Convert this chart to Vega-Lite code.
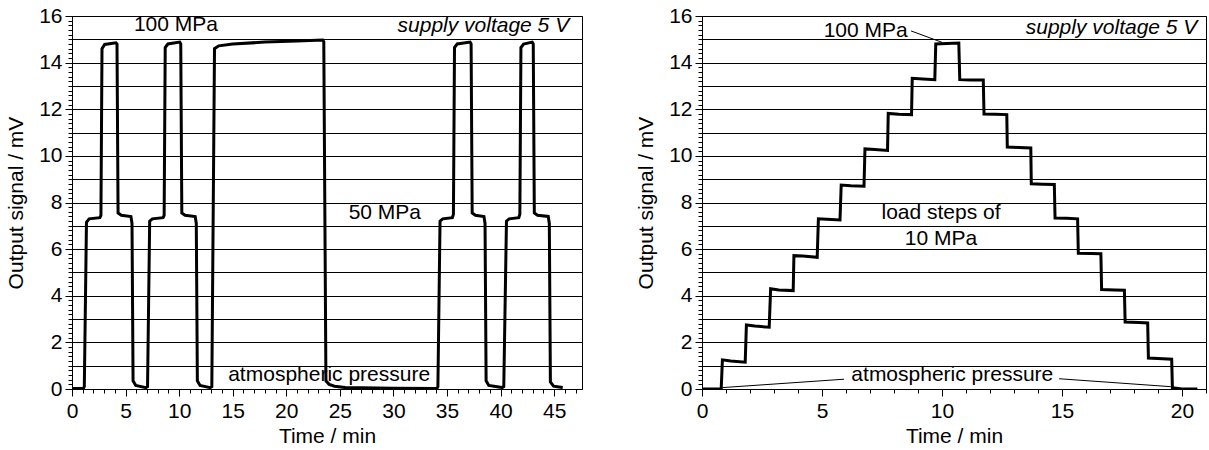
{
  "$schema": "https://vega.github.io/schema/vega-lite/v6.json",
  "padding": {"left": 5, "top": 4, "right": 0, "bottom": 0},
  "spacing": 52,
  "background": "white",
  "config": {
    "view": {"stroke": "black", "strokeWidth": 1},
    "axis": {
      "labelFont": "Liberation Sans", "labelFontSize": 21, "labelColor": "black",
      "titleFont": "Liberation Sans", "titleFontSize": 21, "titleFontWeight": "normal", "titleColor": "black",
      "domainColor": "black", "domainWidth": 1, "tickColor": "black", "tickWidth": 1,
      "gridColor": "black", "gridWidth": 1, "labelOverlap": false, "labelFlush": false
    },
    "text": {"font": "Liberation Sans", "fontSize": 21, "color": "black", "baseline": "middle"}
  },
  "datasets": {
    "left": [
      {"t":0,"v":0.02},{"t":1.05,"v":0.02},{"t":1.15,"v":0.1},{"t":1.35,"v":7.15},{"t":1.6,"v":7.3},{"t":2.6,"v":7.35},{"t":2.7,"v":7.45},{"t":2.8,"v":14.6},{"t":3.05,"v":14.78},{"t":4.1,"v":14.85},{"t":4.2,"v":14.8},{"t":4.3,"v":7.55},{"t":4.6,"v":7.45},{"t":5.5,"v":7.4},{"t":5.6,"v":7.1},{"t":5.7,"v":0.35},{"t":5.95,"v":0.15},{"t":6.9,"v":0.06},{"t":7.05,"v":0.1},{"t":7.25,"v":7.2},{"t":7.5,"v":7.3},{"t":8.5,"v":7.35},{"t":8.6,"v":7.45},{"t":8.7,"v":14.65},{"t":8.95,"v":14.8},{"t":10.05,"v":14.88},{"t":10.15,"v":14.8},{"t":10.25,"v":7.55},{"t":10.55,"v":7.45},{"t":11.5,"v":7.4},{"t":11.6,"v":7.1},{"t":11.7,"v":0.35},{"t":11.95,"v":0.15},{"t":12.9,"v":0.06},{"t":13.05,"v":0.1},{"t":13.3,"v":14.6},{"t":13.7,"v":14.72},{"t":15,"v":14.8},{"t":18,"v":14.88},{"t":21,"v":14.93},{"t":23.4,"v":14.97},{"t":23.5,"v":14.9},{"t":23.7,"v":0.35},{"t":24.0,"v":0.2},{"t":24.5,"v":0.12},{"t":25.5,"v":0.06},{"t":30,"v":0.03},{"t":34.05,"v":0.02},{"t":34.15,"v":0.1},{"t":34.35,"v":7.2},{"t":34.6,"v":7.3},{"t":35.5,"v":7.35},{"t":35.6,"v":7.5},{"t":35.7,"v":14.65},{"t":35.95,"v":14.8},{"t":37.15,"v":14.88},{"t":37.25,"v":14.8},{"t":37.35,"v":7.55},{"t":37.65,"v":7.45},{"t":38.45,"v":7.4},{"t":38.55,"v":7.1},{"t":38.65,"v":0.35},{"t":38.9,"v":0.15},{"t":40.15,"v":0.06},{"t":40.3,"v":0.1},{"t":40.55,"v":7.2},{"t":40.8,"v":7.3},{"t":41.7,"v":7.35},{"t":41.8,"v":7.5},{"t":41.9,"v":14.65},{"t":42.15,"v":14.8},{"t":42.95,"v":14.88},{"t":43.05,"v":14.8},{"t":43.15,"v":7.55},{"t":43.45,"v":7.45},{"t":44.45,"v":7.4},{"t":44.55,"v":7.1},{"t":44.65,"v":0.3},{"t":44.95,"v":0.12},{"t":45.8,"v":0.06}
    ],
    "right": [
      {"t":0,"v":0},{"t":0.8,"v":0},{"t":0.85,"v":1.25},{"t":1.2,"v":1.2},{"t":1.8,"v":1.15},{"t":1.85,"v":2.75},{"t":2.2,"v":2.7},{"t":2.8,"v":2.65},{"t":2.86,"v":4.3},{"t":3.2,"v":4.25},{"t":3.8,"v":4.22},{"t":3.83,"v":5.72},{"t":4.2,"v":5.7},{"t":4.8,"v":5.65},{"t":4.85,"v":7.3},{"t":5.2,"v":7.28},{"t":5.75,"v":7.25},{"t":5.8,"v":8.75},{"t":6.2,"v":8.72},{"t":6.75,"v":8.7},{"t":6.79,"v":10.3},{"t":7.2,"v":10.27},{"t":7.73,"v":10.23},{"t":7.76,"v":11.82},{"t":8.2,"v":11.79},{"t":8.73,"v":11.77},{"t":8.76,"v":13.33},{"t":9.2,"v":13.3},{"t":9.7,"v":13.27},{"t":9.74,"v":14.8},{"t":10.2,"v":14.82},{"t":10.7,"v":14.84},{"t":10.74,"v":13.27},{"t":11.2,"v":13.25},{"t":11.72,"v":13.25},{"t":11.75,"v":11.8},{"t":12.2,"v":11.79},{"t":12.7,"v":11.77},{"t":12.72,"v":10.38},{"t":13.2,"v":10.36},{"t":13.7,"v":10.34},{"t":13.72,"v":8.8},{"t":14.2,"v":8.78},{"t":14.68,"v":8.77},{"t":14.71,"v":7.33},{"t":15.2,"v":7.32},{"t":15.65,"v":7.3},{"t":15.68,"v":5.82},{"t":16.2,"v":5.81},{"t":16.62,"v":5.8},{"t":16.65,"v":4.27},{"t":17.2,"v":4.25},{"t":17.6,"v":4.24},{"t":17.63,"v":2.87},{"t":18.2,"v":2.85},{"t":18.57,"v":2.83},{"t":18.6,"v":1.33},{"t":19.2,"v":1.3},{"t":19.57,"v":1.28},{"t":19.6,"v":0.05},{"t":20.0,"v":0.0},{"t":20.64,"v":0.0}
    ],
    "leftLabels": [
      {"t":9.7,"v":15.6,"label":"100 MPa"},
      {"t":29.2,"v":7.55,"label":"50 MPa"},
      {"t":24.0,"v":0.62,"label":"atmospheric pressure"}
    ],
    "leftSupply": [{"t":46.4,"v":15.58,"label":"supply voltage 5 V"}],
    "rightLabels": [
      {"t":6.82,"v":15.36,"label":"100 MPa"},
      {"t":9.96,"v":7.57,"label":"load steps of"},
      {"t":9.96,"v":6.42,"label":"10 MPa"},
      {"t":10.43,"v":0.62,"label":"atmospheric pressure"}
    ],
    "rightSupply": [{"t":20.64,"v":15.5,"label":"supply voltage 5 V"}],
    "rightLeaders": [
      {"t":8.71,"v":15.36,"t2":10.0,"v2":14.87},
      {"t":5.92,"v":0.42,"t2":0.85,"v2":0.06},
      {"t":14.88,"v":0.44,"t2":19.53,"v2":0.1}
    ]
  },
  "hconcat": [
    {
      "width": 510, "height": 373,
      "layer": [
        {
          "data": {"name": "left"},
          "mark": {"type": "line", "color": "black", "strokeWidth": 3, "clip": true},
          "encoding": {
            "x": {"field": "t", "type": "quantitative", "scale": {"domain": [0, 47.6], "nice": false, "zero": false},
              "axis": {"title": "Time / min", "tickCount": 100, "values": [0,1,2,3,4,5,6,7,8,9,10,11,12,13,14,15,16,17,18,19,20,21,22,23,24,25,26,27,28,29,30,31,32,33,34,35,36,37,38,39,40,41,42,43,44,45,46,47],
                "grid": false, "tickSize": {"condition": {"test": "datum.value % 5 === 0", "value": 7}, "value": 4},
                "labelExpr": "datum.value % 5 === 0 ? format(datum.value, 'd') : ''", "labelPadding": 4, "titlePadding": 4}},
            "y": {"field": "v", "type": "quantitative", "scale": {"domain": [0, 16], "nice": false},
              "axis": {"title": "Output signal / mV", "tickCount": 200, "values": [0,0.2,0.4,0.6,0.8,1,1.2,1.4,1.6,1.8,2,2.2,2.4,2.6,2.8,3,3.2,3.4,3.6,3.8,4,4.2,4.4,4.6,4.8,5,5.2,5.4,5.6,5.8,6,6.2,6.4,6.6,6.8,7,7.2,7.4,7.6,7.8,8,8.2,8.4,8.6,8.8,9,9.2,9.4,9.6,9.8,10,10.2,10.4,10.6,10.8,11,11.2,11.4,11.6,11.8,12,12.2,12.4,12.6,12.8,13,13.2,13.4,13.6,13.8,14,14.2,14.4,14.6,14.8,15,15.2,15.4,15.6,15.8,16],
                "grid": true,
                "gridOpacity": {"condition": {"test": "abs(datum.value - round(datum.value)) < 0.001", "value": 1}, "value": 0},
                "tickSize": {"condition": {"test": "abs(datum.value / 2 - round(datum.value / 2)) < 0.001", "value": 7}, "value": 4},
                "labelExpr": "abs(datum.value / 2 - round(datum.value / 2)) < 0.001 ? format(datum.value, 'd') : ''",
                "labelPadding": 3, "titlePadding": 12}}
          }
        },
        {
          "data": {"name": "leftLabels"},
          "mark": {"type": "text", "align": "center"},
          "encoding": {"x": {"field": "t", "type": "quantitative"}, "y": {"field": "v", "type": "quantitative"}, "text": {"field": "label"}}
        },
        {
          "data": {"name": "leftSupply"},
          "mark": {"type": "text", "align": "right", "fontStyle": "italic"},
          "encoding": {"x": {"field": "t", "type": "quantitative"}, "y": {"field": "v", "type": "quantitative"}, "text": {"field": "label"}}
        }
      ]
    },
    {
      "width": 504, "height": 373,
      "layer": [
        {
          "data": {"name": "right"},
          "mark": {"type": "line", "color": "black", "strokeWidth": 3, "clip": true},
          "encoding": {
            "x": {"field": "t", "type": "quantitative", "scale": {"domain": [0, 21], "nice": false, "zero": false},
              "axis": {"title": "Time / min", "tickCount": 100, "values": [0,1,2,3,4,5,6,7,8,9,10,11,12,13,14,15,16,17,18,19,20,21],
                "grid": false, "tickSize": {"condition": {"test": "datum.value % 5 === 0", "value": 7}, "value": 4},
                "labelExpr": "datum.value % 5 === 0 ? format(datum.value, 'd') : ''", "labelPadding": 4, "titlePadding": 4}},
            "y": {"field": "v", "type": "quantitative", "scale": {"domain": [0, 16], "nice": false},
              "axis": {"title": "Output signal / mV", "tickCount": 200, "values": [0,0.2,0.4,0.6,0.8,1,1.2,1.4,1.6,1.8,2,2.2,2.4,2.6,2.8,3,3.2,3.4,3.6,3.8,4,4.2,4.4,4.6,4.8,5,5.2,5.4,5.6,5.8,6,6.2,6.4,6.6,6.8,7,7.2,7.4,7.6,7.8,8,8.2,8.4,8.6,8.8,9,9.2,9.4,9.6,9.8,10,10.2,10.4,10.6,10.8,11,11.2,11.4,11.6,11.8,12,12.2,12.4,12.6,12.8,13,13.2,13.4,13.6,13.8,14,14.2,14.4,14.6,14.8,15,15.2,15.4,15.6,15.8,16],
                "grid": true,
                "gridOpacity": {"condition": {"test": "abs(datum.value - round(datum.value)) < 0.001", "value": 1}, "value": 0},
                "tickSize": {"condition": {"test": "abs(datum.value / 2 - round(datum.value / 2)) < 0.001", "value": 7}, "value": 4},
                "labelExpr": "abs(datum.value / 2 - round(datum.value / 2)) < 0.001 ? format(datum.value, 'd') : ''",
                "labelPadding": 3, "titlePadding": 12}}
          }
        },
        {
          "data": {"name": "rightLeaders"},
          "mark": {"type": "rule", "color": "black", "strokeWidth": 1},
          "encoding": {"x": {"field": "t", "type": "quantitative"}, "y": {"field": "v", "type": "quantitative"}, "x2": {"field": "t2"}, "y2": {"field": "v2"}}
        },
        {
          "data": {"name": "rightLabels"},
          "mark": {"type": "text", "align": "center"},
          "encoding": {"x": {"field": "t", "type": "quantitative"}, "y": {"field": "v", "type": "quantitative"}, "text": {"field": "label"}}
        },
        {
          "data": {"name": "rightSupply"},
          "mark": {"type": "text", "align": "right", "fontStyle": "italic"},
          "encoding": {"x": {"field": "t", "type": "quantitative"}, "y": {"field": "v", "type": "quantitative"}, "text": {"field": "label"}}
        }
      ]
    }
  ]
}
